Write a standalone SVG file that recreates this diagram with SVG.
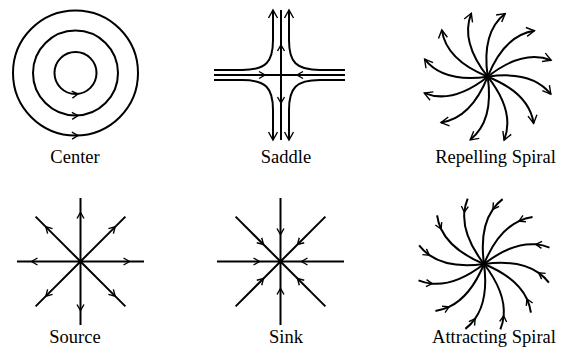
<svg xmlns="http://www.w3.org/2000/svg" width="563" height="347" viewBox="0 0 563 347">
<style>
.ln{fill:none;stroke:#000;stroke-width:2}
.hd{fill:none;stroke:#000;stroke-width:1.4}
.lbl{font-size:18.5px;fill:#000;text-anchor:middle}
.dot{fill:#000}
</style>
<defs>
<marker id="mS" viewBox="-10 -6 12 12" markerWidth="12" markerHeight="12" refX="0" refY="0" orient="auto" markerUnits="userSpaceOnUse"><path d="M-6,-3.5 L0,0 L-6,3.5" class="hd"/></marker>
<marker id="mL" viewBox="-10 -6 12 12" markerWidth="12" markerHeight="12" refX="0" refY="0" orient="auto" markerUnits="userSpaceOnUse"><path d="M-8,-4.5 L0,0 L-8,4.5" class="hd"/></marker>
<path id="chev" d="M-6,-3.5 L0,0 L-6,3.5" class="hd"/>
</defs>

<g id="center">
<circle class="ln" cx="75.5" cy="73" r="62.5"/>
<circle class="ln" cx="75.5" cy="73" r="42.5"/>
<circle class="ln" cx="75.5" cy="73" r="21"/>
<use href="#chev" transform="translate(78,94) rotate(-6)"/>
<use href="#chev" transform="translate(78,115.5) rotate(-3)"/>
<use href="#chev" transform="translate(78,135.5) rotate(-2)"/>
<text class="lbl" font-family="'Liberation Serif', 'Times New Roman', serif" x="75" y="163">Center</text>
</g>

<g id="saddle">
<path class="ln" d="M214,75 H281 M345,75 H281 M281,10 V140"/>
<g class="ln" marker-end="url(#mL)">
<path d="M214,70 H242 C266,70 273,62 273,40 V10"/>
<path d="M345,70 H320 C296,70 289,62 289,40 V10"/>
<path d="M214,80 H242 C266,80 273,88 273,110 V140"/>
<path d="M345,80 H320 C296,80 289,88 289,110 V140"/>
</g>
<use href="#chev" transform="translate(265,75)"/>
<use href="#chev" transform="translate(297,75) rotate(180)"/>
<use href="#chev" transform="translate(281,45) rotate(-90)"/>
<use href="#chev" transform="translate(281,103) rotate(90)"/>
<text class="lbl" font-family="'Liberation Serif', 'Times New Roman', serif" x="286" y="163">Saddle</text>
</g>

<g id="repelling-spiral">
<g class="ln" marker-end="url(#mL)" transform="translate(487.7,76.7)">
<path transform="rotate(-74.5)" d="M0,0 Q41,-18 65.5,0"/>
<path transform="rotate(-44.5)" d="M0,0 Q41,-18 65.5,0"/>
<path transform="rotate(-14.5)" d="M0,0 Q41,-18 65.5,0"/>
<path transform="rotate(15.5)" d="M0,0 Q41,-18 65.5,0"/>
<path transform="rotate(45.5)" d="M0,0 Q41,-18 65.5,0"/>
<path transform="rotate(75.5)" d="M0,0 Q41,-18 65.5,0"/>
<path transform="rotate(105.5)" d="M0,0 Q41,-18 65.5,0"/>
<path transform="rotate(135.5)" d="M0,0 Q41,-18 65.5,0"/>
<path transform="rotate(165.5)" d="M0,0 Q41,-18 65.5,0"/>
<path transform="rotate(195.5)" d="M0,0 Q41,-18 65.5,0"/>
<path transform="rotate(225.5)" d="M0,0 Q41,-18 65.5,0"/>
<path transform="rotate(255.5)" d="M0,0 Q41,-18 65.5,0"/>
</g>
<circle class="dot" cx="487.7" cy="76.7" r="2.5"/>
<text class="lbl" font-family="'Liberation Serif', 'Times New Roman', serif" x="495.5" y="163">Repelling Spiral</text>
</g>

<g id="source">
<g class="ln" marker-mid="url(#mS)">
<path d="M80.5,261.5 L129.5,261.5 L144,261.5"/>
<path d="M80.5,261.5 L31.5,261.5 L17,261.5"/>
<path d="M80.5,261.5 L80.5,212.5 L80.5,198"/>
<path d="M80.5,261.5 L80.5,310.5 L80.5,325"/>
<path d="M80.5,261.5 L115.15,226.85 L125.4,216.6"/>
<path d="M80.5,261.5 L45.85,226.85 L35.6,216.6"/>
<path d="M80.5,261.5 L115.15,296.15 L125.4,306.4"/>
<path d="M80.5,261.5 L45.85,296.15 L35.6,306.4"/>
</g>
<circle class="dot" cx="80.5" cy="261.5" r="2.5"/>
<text class="lbl" font-family="'Liberation Serif', 'Times New Roman', serif" x="75" y="343">Source</text>
</g>

<g id="sink">
<g class="ln" marker-mid="url(#mS)">
<path d="M280.5,198 L280.5,234.5 L280.5,261.5"/>
<path d="M280.5,325 L280.5,288.5 L280.5,261.5"/>
<path d="M217,261.5 L259.5,261.5 L280.5,261.5"/>
<path d="M344,261.5 L301.5,261.5 L280.5,261.5"/>
<path d="M235.6,216.6 L263.5,244.5 L280.5,261.5"/>
<path d="M325.4,216.6 L297.5,244.5 L280.5,261.5"/>
<path d="M235.6,306.4 L263.5,278.5 L280.5,261.5"/>
<path d="M325.4,306.4 L297.5,278.5 L280.5,261.5"/>
</g>
<circle class="dot" cx="280.5" cy="261.5" r="2.5"/>
<text class="lbl" font-family="'Liberation Serif', 'Times New Roman', serif" x="286" y="343">Sink</text>
</g>

<g id="attracting-spiral">
<g class="ln" marker-mid="url(#mS)" transform="translate(484,264)">
<path transform="rotate(-74)" d="M67.5,0 Q61.7,-4.26 55,-6.56 Q32.57,-14.25 0,0"/>
<path transform="rotate(-44)" d="M67.5,0 Q61.7,-4.26 55,-6.56 Q32.57,-14.25 0,0"/>
<path transform="rotate(-14)" d="M67.5,0 Q61.7,-4.26 55,-6.56 Q32.57,-14.25 0,0"/>
<path transform="rotate(16)" d="M67.5,0 Q61.7,-4.26 55,-6.56 Q32.57,-14.25 0,0"/>
<path transform="rotate(46)" d="M67.5,0 Q61.7,-4.26 55,-6.56 Q32.57,-14.25 0,0"/>
<path transform="rotate(76)" d="M67.5,0 Q61.7,-4.26 55,-6.56 Q32.57,-14.25 0,0"/>
<path transform="rotate(106)" d="M67.5,0 Q61.7,-4.26 55,-6.56 Q32.57,-14.25 0,0"/>
<path transform="rotate(136)" d="M67.5,0 Q61.7,-4.26 55,-6.56 Q32.57,-14.25 0,0"/>
<path transform="rotate(166)" d="M67.5,0 Q61.7,-4.26 55,-6.56 Q32.57,-14.25 0,0"/>
<path transform="rotate(196)" d="M67.5,0 Q61.7,-4.26 55,-6.56 Q32.57,-14.25 0,0"/>
<path transform="rotate(226)" d="M67.5,0 Q61.7,-4.26 55,-6.56 Q32.57,-14.25 0,0"/>
<path transform="rotate(256)" d="M67.5,0 Q61.7,-4.26 55,-6.56 Q32.57,-14.25 0,0"/>
</g>
<circle class="dot" cx="484" cy="264" r="2.5"/>
<text class="lbl" font-family="'Liberation Serif', 'Times New Roman', serif" x="494" y="343">Attracting Spiral</text>
</g>
</svg>
